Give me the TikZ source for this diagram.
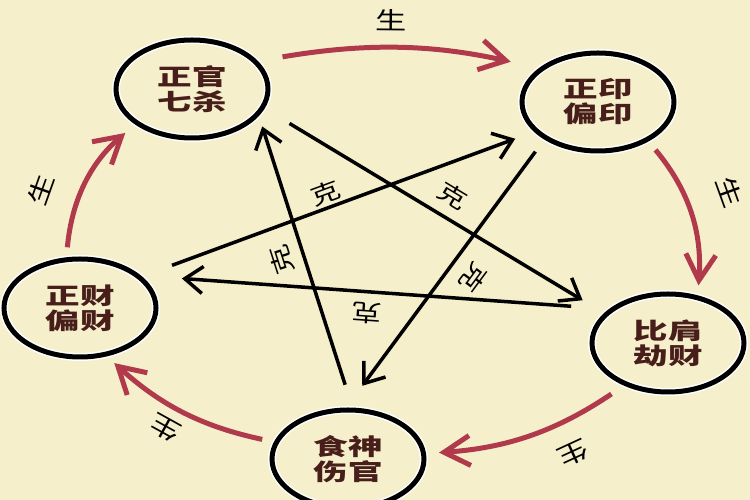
\documentclass[tikz,border=0pt]{standalone}
\usepackage{fontspec}
\newfontfamily\cjk[FakeStretch=1.3]{Noto Sans CJK SC}
\newfontfamily\cjkwide[FakeStretch=1.5]{Noto Sans CJK SC}
\usetikzlibrary{shapes.geometric,arrows.meta}
\definecolor{cream}{RGB}{245,239,204}
\definecolor{shengred}{RGB}{176,58,76}
\definecolor{inkbrown}{RGB}{72,30,26}

\begin{document}
\begin{tikzpicture}[x=1pt, y=1pt,
  main node/.style={ellipse,draw,line width=5pt,minimum width=152pt,minimum height=98pt,inner sep=0pt,align=center,text=inkbrown,preaction={draw=white,line width=8pt}},
  ke line/.style={draw=black,line width=3.5pt,-{Straight Barb[length=18pt,width=27pt]}},
  sheng line/.style={draw=shengred,line width=5pt,-{Straight Barb[length=26pt,width=30pt]}},
  ke label/.style={font=\cjk\fontsize{23}{23}\selectfont,text=black,sloped,allow upside down,inner sep=1pt},
  sheng label/.style={font=\cjk\fontsize{24}{24}\selectfont,text=black,sloped,allow upside down,inner sep=1pt}]
\path[use as bounding box,fill=cream] (0,0) rectangle (750,500);

\begin{scope}[every node/.style={font=\cjkwide\bfseries\fontsize{23}{25}\selectfont}]
\node [main node](guan) at (192,411) {正官\\七杀};
\node [main node](yin) at (598,398) {正印\\偏印};
\node [main node](bi) at (668,157) {比肩\\劫财};
\node [main node](shi) at (348,41) {食神\\伤官};
\node [main node](cai) at (80,192) {正财\\偏财};
\end{scope}

\draw [ke line,shorten <=24pt,shorten >=11pt] (shi.85) -- node[ke label,pos=.53,above=9pt]{克} (guan.-22);
\draw [ke line,shorten <=29pt,shorten >=25pt] (guan.-15) -- node[ke label,pos=.52,above=9pt]{克} (bi.155);
\draw [ke line,shorten <=15pt,shorten >=27pt] (yin.215) -- node[ke label,pos=.46,above=12pt]{克} (shi.92);
\draw [ke line,shorten <=38pt,shorten >=41pt] (bi.150) -- node[ke label,pos=.515,above=8pt]{克} (cai.28);
\draw [ke line,shorten <=32pt,shorten >=20pt] (cai.27) -- node[ke label,pos=.48,above=1pt]{克} (yin.205);

\draw [sheng line,shorten <=25pt,shorten >=29pt] (guan.23) to[bend left=11] node[sheng label,pos=.47,above=14pt]{生} (yin.150);
\draw [sheng line,shorten <=11pt,shorten >=10pt] (yin.-38) to[bend left=22] node[sheng label,pos=.46,above=30pt]{生} (bi.58);
\draw [sheng line,shorten <=15pt,shorten >=13pt] (bi.224) to[bend left=15] node[sheng label,pos=.34,above=20pt]{生} (shi.4);
\draw [sheng line,shorten <=12pt,shorten >=10pt] (shi.167) to[bend left=15] node[sheng label,pos=.55,above=9pt]{生} (cai.-61);
\draw [sheng line,shorten <=10pt,shorten >=13pt] (cai.105) to[bend left=22] node[sheng label,pos=.35,above=25pt]{生} (guan.212);
\end{tikzpicture}
\end{document}
